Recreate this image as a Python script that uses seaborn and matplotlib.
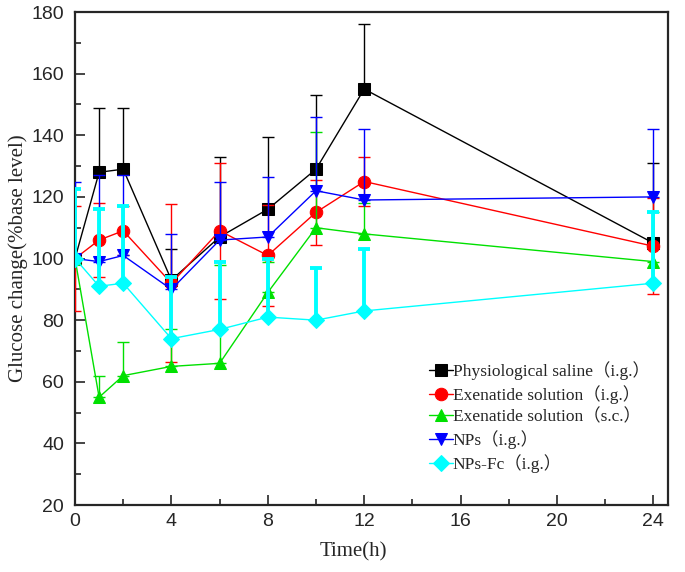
import numpy as np
import pandas as pd
import matplotlib
matplotlib.use("Agg")
import matplotlib.pyplot as plt
import seaborn as sns
from matplotlib.ticker import MultipleLocator

time_h = [0, 1, 2, 4, 6, 8, 10, 12, 24]

saline_mean = [100, 128, 129, 93, 107, 116, 129, 155, 105]
saline_err = [0, 21, 20, 10, 26, 23.5, 24, 21, 26]

exen_ig_mean = [100, 106, 109, 92, 109, 101, 115, 125, 104]
exen_ig_err = [17, 12, 8, 25.7, 22, 16.5, 10.5, 8, 15.5]

exen_sc_mean = [100, 55, 62, 65, 66, 89, 110, 108, 99]
exen_sc_err = [0, 7, 11, 12, 32, 10, 31, 10, 16]

nps_mean = [100, 99, 101, 90, 106, 107, 122, 119, 120]
nps_err = [25, 28, 26, 18, 19, 19.5, 24, 23, 22]

npsfc_mean = [100, 91, 92, 74, 77, 81, 80, 83, 92]
npsfc_err = [22.6, 25, 25, 20, 22, 19, 17, 20, 23]

labels = ["Physiological saline（i.g.）", "Exenatide solution（i.g.）",
          "Exenatide solution（s.c.）", "NPs（i.g.）", "NPs-Fc（i.g.）"]
colors = ["#000000", "#ff0000", "#00e000", "#0000ff", "#00ffff"]
markers = ["s", "o", "^", "v", "D"]
means = [saline_mean, exen_ig_mean, exen_sc_mean, nps_mean, npsfc_mean]
errs = [saline_err, exen_ig_err, exen_sc_err, nps_err, npsfc_err]
both_sides = [False, True, False, False, False]
err_lw = [1.0, 1.0, 1.0, 1.0, 2.8]

sns.set_style("ticks")
plt.rcParams['font.family'] = ['Liberation Sans', 'DejaVu Sans']
serif = ['Liberation Serif', 'Noto Sans CJK SC', 'DejaVu Serif']

fig = plt.figure(figsize=(6.85, 5.72), dpi=100)
ax = fig.add_axes([0.1095, 0.117, 0.8655, 0.862])

for i in range(5):
    df = pd.DataFrame({"t": time_h, "v": means[i]})
    sns.lineplot(data=df, x="t", y="v", ax=ax, color=colors[i], marker=markers[i],
                 markersize=9 if markers[i] != "D" else 8, markeredgecolor=colors[i],
                 linewidth=1.0, label=labels[i], zorder=3 + i)
    e = np.array(errs[i], dtype=float)
    lower = e if both_sides[i] else np.zeros_like(e)
    ax.errorbar(time_h, means[i], yerr=[lower, e], fmt="none", ecolor=colors[i],
                elinewidth=err_lw[i], capsize=4, capthick=err_lw[i], zorder=3 + i)

ax.set_xlim(0, 24.6)
ax.set_ylim(20, 180)
ax.xaxis.set_major_locator(MultipleLocator(4))
ax.xaxis.set_minor_locator(MultipleLocator(2))
ax.yaxis.set_major_locator(MultipleLocator(20))
ax.yaxis.set_minor_locator(MultipleLocator(10))
ax.tick_params(which="both", direction="in", top=False, right=False, width=1.2)
ax.tick_params(which="major", length=7, labelsize=14)
ax.tick_params(axis="y", which="major", pad=8)
ax.tick_params(axis="x", which="major", pad=6)
ax.tick_params(which="minor", length=4)
for s in ax.spines.values():
    s.set_linewidth(1.6)

ax.set_xlabel("Time(h)", fontsize=15, family=serif)
ax.set_ylabel("Glucose change(%base level)", fontsize=15, family=serif)
ax.xaxis.set_label_coords(0.47, -0.075)
ax.yaxis.set_label_coords(-0.08, 0.5)

leg = ax.legend(loc="lower right", bbox_to_anchor=(0.987, 0.044), frameon=False,
                prop={"family": serif, "size": 12.5}, handlelength=1.4,
                handletextpad=0.0, labelspacing=0.28, borderaxespad=0.2)

fig.savefig("out.png", dpi=100)
